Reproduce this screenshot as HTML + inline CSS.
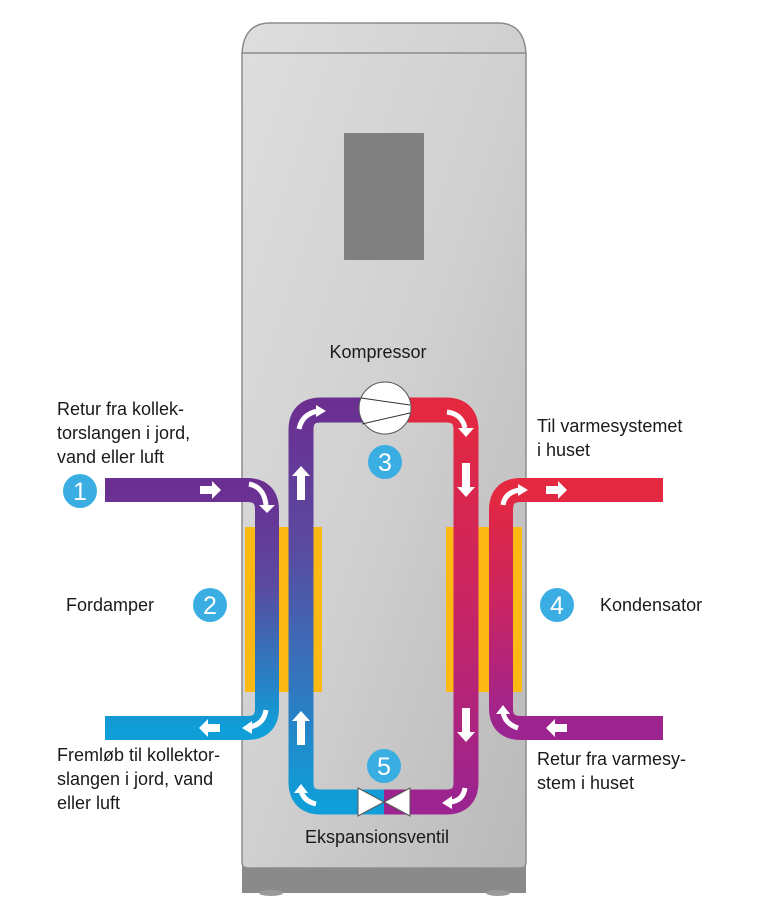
<!DOCTYPE html>
<html><head><meta charset="utf-8"><style>
html,body{margin:0;padding:0;background:#fff;}
svg{display:block}
text{font-family:"Liberation Sans Narrow","Liberation Sans",sans-serif;font-size:18px;fill:#1a1a1a}
</style></head><body>
<svg width="768" height="918" viewBox="0 0 768 918" xmlns="http://www.w3.org/2000/svg">
<defs>
<linearGradient id="cab" x1="0" y1="0" x2="1" y2="1">
<stop offset="0" stop-color="#dedede"/><stop offset="0.5" stop-color="#d0d0d0"/><stop offset="1" stop-color="#b9b9b9"/></linearGradient>
<linearGradient id="gL" gradientUnits="userSpaceOnUse" x1="0" y1="410" x2="0" y2="802">
<stop offset="0" stop-color="#6b2f92"/><stop offset="0.35" stop-color="#5a4aa0"/><stop offset="1" stop-color="#0f9ed8"/></linearGradient>
<linearGradient id="gR" gradientUnits="userSpaceOnUse" x1="0" y1="410" x2="0" y2="802">
<stop offset="0" stop-color="#e4283f"/><stop offset="0.45" stop-color="#cc2560"/><stop offset="1" stop-color="#9b2490"/></linearGradient>
<linearGradient id="gLU" gradientUnits="userSpaceOnUse" x1="0" y1="490" x2="0" y2="728">
<stop offset="0" stop-color="#6b2f92"/><stop offset="0.4" stop-color="#5a4aa0"/><stop offset="1" stop-color="#0f9ed8"/></linearGradient>
<linearGradient id="gRU" gradientUnits="userSpaceOnUse" x1="0" y1="490" x2="0" y2="728">
<stop offset="0" stop-color="#e4283f"/><stop offset="0.45" stop-color="#cc2560"/><stop offset="1" stop-color="#9b2490"/></linearGradient>
</defs>
<rect x="242" y="866" width="284" height="27" fill="#8a8a8a"/>
<ellipse cx="271" cy="893" rx="12" ry="3" fill="#9a9a9a"/>
<ellipse cx="498" cy="893" rx="12" ry="3" fill="#9a9a9a"/>
<path d="M242,53 Q244,23 270,23 L498,23 Q524,23 526,53 L526,862 Q526,868 520,868 L248,868 Q242,868 242,862 Z" fill="url(#cab)" stroke="#8c8c8c" stroke-width="1.5"/>
<line x1="242" y1="53" x2="526" y2="53" stroke="#8c8c8c" stroke-width="1.5"/>
<rect x="344" y="133" width="80" height="127" fill="#808080"/>
<rect x="245" y="527" width="77" height="165" fill="#fdb913"/>
<rect x="446" y="527" width="76" height="165" fill="#fdb913"/>
<path d="M384,802 L321,802 Q301,802 301,782 L301,430 Q301,410 321,410 L385,410" fill="none" stroke="url(#gL)" stroke-width="25"/>
<path d="M384,410 L446,410 Q466,410 466,430 L466,782 Q466,802 446,802 L384,802" fill="none" stroke="url(#gR)" stroke-width="25"/>
<path d="M105,490 L247,490 Q267,490 267,510 L267,708 Q267,728 247,728 L105,728" fill="none" stroke="url(#gLU)" stroke-width="24"/>
<path d="M663,490 L521,490 Q501,490 501,510 L501,708 Q501,728 521,728 L663,728" fill="none" stroke="url(#gRU)" stroke-width="24"/>
<circle cx="385" cy="408" r="26" fill="#fff" stroke="#555" stroke-width="1"/>
<line x1="361" y1="398" x2="410" y2="405" stroke="#333" stroke-width="1"/>
<line x1="362" y1="424" x2="410" y2="413" stroke="#333" stroke-width="1"/>
<path d="M358,788 L384,802 L358,816 Z" fill="#fff" stroke="#555" stroke-width="1"/>
<path d="M410,788 L384,802 L410,816 Z" fill="#fff" stroke="#555" stroke-width="1"/>
<g fill="#fff">
<path d="M200,486 h12 v-5 l9,9 -9,9 v-5 h-12z"/>
<path d="M546,486 h12 v-5 l9,9 -9,9 v-5 h-12z"/>
<path d="M220,724 h-12 v-5 l-9,9 9,9 v-5 h12z"/>
<path d="M567,724 h-12 v-5 l-9,9 9,9 v-5 h12z"/>
<path d="M297,500 v-24 h-5 l9,-10 9,10 h-5 v24z"/>
<path d="M297,745 v-24 h-5 l9,-10 9,10 h-5 v24z"/>
<path d="M462,463 v24 h-5 l9,10 9,-10 h-5 v-24z"/>
<path d="M462,708 v24 h-5 l9,10 9,-10 h-5 v-24z"/>
</g>
<g fill="none" stroke="#fff" stroke-width="5">
<path d="M249,484 Q264,487 266,505"/>
<path d="M299,429 Q302,414 318,411"/>
<path d="M447,412 Q462,414 465,428"/>
<path d="M465,788 Q463,801 450,802"/>
<path d="M316,804 Q303,801 301,790"/>
<path d="M266,710 Q264,724 250,727"/>
<path d="M503,505 Q505,492 520,490"/>
<path d="M503,712 Q505,724 518,728"/>
</g>
<g fill="#fff">
<path d="M259,505 l8,8 8,-8z"/>
<path d="M316,405 l10,6 -10,6z"/>
<path d="M458,428 l8,9 8,-9z"/>
<path d="M452,796 l-10,7 10,6z"/>
<path d="M294,793 l7,-9 7,9z"/>
<path d="M252,721 l-10,7 10,6z"/>
<path d="M518,484 l10,6 -10,6z"/>
<path d="M496,714 l7,-9 7,9z"/>
</g>
<g fill="#3aaee3">
<circle cx="80" cy="491" r="17"/><circle cx="210" cy="605" r="17"/><circle cx="385" cy="462" r="17"/><circle cx="557" cy="605" r="17"/><circle cx="384" cy="766" r="17"/>
</g>
<g text-anchor="middle">
<text x="80" y="500" style="fill:#fff;font-size:25px">1</text>
<text x="210" y="614" style="fill:#fff;font-size:25px">2</text>
<text x="385" y="471" style="fill:#fff;font-size:25px">3</text>
<text x="557" y="614" style="fill:#fff;font-size:25px">4</text>
<text x="384" y="775" style="fill:#fff;font-size:25px">5</text>
</g>
<text x="378" y="358" text-anchor="middle">Kompressor</text>
<text x="57" y="415">Retur fra kollek-</text>
<text x="57" y="439">torslangen i jord,</text>
<text x="57" y="463">vand eller luft</text>
<text x="537" y="432">Til varmesystemet</text>
<text x="537" y="456">i huset</text>
<text x="66" y="611">Fordamper</text>
<text x="600" y="611">Kondensator</text>
<text x="57" y="761">Fremløb til kollektor-</text>
<text x="57" y="785">slangen i jord, vand</text>
<text x="57" y="809">eller luft</text>
<text x="537" y="765">Retur fra varmesy-</text>
<text x="537" y="789">stem i huset</text>
<text x="377" y="843" text-anchor="middle">Ekspansionsventil</text>
</svg>
</body></html>
